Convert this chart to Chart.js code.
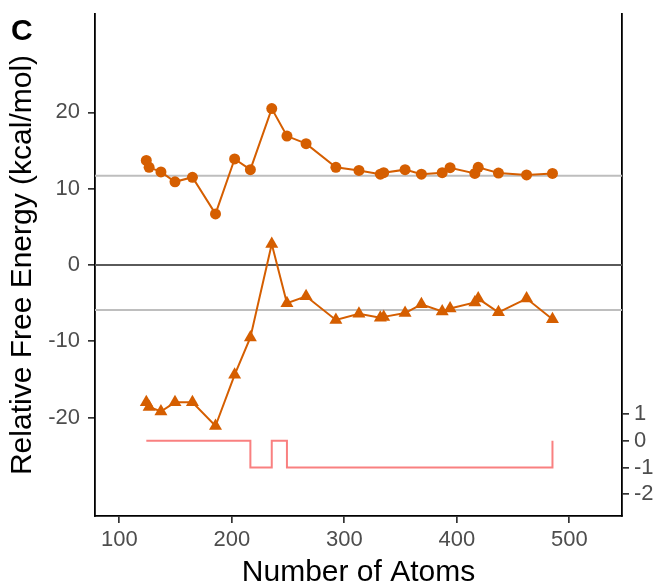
<!DOCTYPE html>
<html>
<head>
<meta charset="utf-8">
<script src="https://cdn.jsdelivr.net/npm/chart.js@4.4.1/dist/chart.umd.min.js"></script>
<style>
  html, body { margin: 0; padding: 0; background: #fff; }
  #wrap { width: 658px; height: 588px; }
</style>
</head>
<body>
<div id="wrap"><canvas id="freeChart" width="658" height="588"></canvas></div>
<script>
// data
var atoms = [124, 126.5, 137, 149.5, 165, 185.5, 202.5, 216.5, 235.5, 249, 266, 292.5, 313, 332, 335, 354, 368.5, 387, 394, 416, 419, 437, 462, 485];
var circleEnergy = [13.7, 12.8, 12.2, 10.9, 11.5, 6.7, 13.9, 12.5, 20.5, 16.9, 15.9, 12.8, 12.4, 11.9, 12.1, 12.5, 11.9, 12.1, 12.75, 12.0, 12.8, 12.05, 11.8, 12.0];
var triangleEnergy = [-18.0, -18.6, -19.2, -18.0, -18.0, -21.1, -14.4, -9.5, 2.75, -5.0, -4.1, -7.2, -6.4, -6.9, -6.8, -6.3, -5.15, -6.1, -5.7, -4.9, -4.4, -6.2, -4.4, -7.1];
var stepValues = [0, 0, 0, 0, 0, 0, 0, -1, 0, -1, -1, -1, -1, -1, -1, -1, -1, -1, -1, -1, -1, -1, -1, 0];
var refLevels = [11.7, -5.9];
var zeroLevel = 0;

var xTicks = [100, 200, 300, 400, 500];
var yTicks = [-20, -10, 0, 10, 20];
var y2Ticks = [-2, -1, 0, 1];

var X_MIN = 78.4, X_MAX = 546.8;
var Y_MIN = -32.9, Y_MAX = 32.9;
var Y2_MIN = -2.81, Y2_MAX = 15.92;

var FONT = "'Liberation Sans', Arial, sans-serif";
var ORANGE = '#D55E00';

function pts(ys) {
  return atoms.map(function(x, i) { return {x: x, y: ys[i]}; });
}
function hline(level) {
  return [{x: X_MIN, y: level}, {x: X_MAX, y: level}];
}
function fixTicks(list) {
  return function(scale) {
    scale.ticks = list.map(function(v) { return {value: v}; });
  };
}
// pin the axis box sizes so the plot area sits where the figure has it
function fixSize(prop, size) {
  return function(s) {
    s[prop] = size;
    s.paddingTop = 0; s.paddingBottom = 0;
    s.paddingLeft = 0; s.paddingRight = 0;
  };
}

var datasets = [
  {
    data: pts(circleEnergy),
    borderColor: ORANGE, backgroundColor: ORANGE, borderWidth: 2,
    pointStyle: 'circle', pointRadius: 5.5, pointBorderWidth: 0,
    yAxisID: 'y', order: 1
  },
  {
    data: pts(triangleEnergy),
    borderColor: ORANGE, backgroundColor: ORANGE, borderWidth: 2,
    pointStyle: 'triangle', pointRadius: 7.5, pointBorderWidth: 0,
    yAxisID: 'y', order: 1
  },
  {
    data: pts(stepValues),
    borderColor: '#F98080', borderWidth: 2, stepped: 'before',
    pointRadius: 0, yAxisID: 'y2', order: 2
  },
  {
    data: hline(zeroLevel),
    borderColor: '#5A5A5A', borderWidth: 2, pointRadius: 0,
    yAxisID: 'y', order: 3
  }
];
refLevels.forEach(function(l) {
  datasets.push({
    data: hline(l),
    borderColor: '#BEBEBE', borderWidth: 2, pointRadius: 0,
    yAxisID: 'y', order: 3
  });
});

var panelLabel = {
  id: 'panelLabel',
  afterDraw: function(chart) {
    var c = chart.ctx;
    c.save();
    c.font = 'bold 30px ' + FONT;
    c.fillStyle = '#000';
    c.textBaseline = 'alphabetic';
    c.fillText('C', 11, 40);
    c.restore();
  }
};

var tickGrid = {display: true, drawOnChartArea: false, drawTicks: true, tickLength: 7, color: '#333', lineWidth: 1.7};
var axisBorder = {display: true, color: '#000', width: 1.8};
var tickFont = {family: FONT, size: 22};

new Chart(document.getElementById('freeChart'), {
  type: 'line',
  data: {datasets: datasets},
  plugins: [panelLabel],
  options: {
    responsive: false,
    devicePixelRatio: 1,
    animation: false,
    layout: {autoPadding: false, padding: {top: 14, left: 0, right: 0, bottom: 0}},
    plugins: {legend: {display: false}, tooltip: {enabled: false}},
    elements: {line: {tension: 0}},
    scales: {
      x: {
        type: 'linear', position: 'bottom', min: X_MIN, max: X_MAX,
        afterBuildTicks: fixTicks(xTicks),
        afterFit: fixSize('height', 72),
        grid: tickGrid, border: axisBorder,
        ticks: {color: '#4D4D4D', font: tickFont, padding: 4, autoSkip: false, maxRotation: 0},
        title: {display: true, text: 'Number of Atoms', color: '#000',
                font: {family: FONT, size: 30, lineHeight: 1}, padding: {top: 0, bottom: 0}}
      },
      y: {
        type: 'linear', position: 'left', min: Y_MIN, max: Y_MAX,
        afterBuildTicks: fixTicks(yTicks),
        afterFit: fixSize('width', 95),
        grid: tickGrid, border: axisBorder,
        ticks: {color: '#4D4D4D', font: tickFont, padding: 8},
        title: {display: true, text: 'Relative Free Energy (kcal/mol)', color: '#000',
                font: {family: FONT, size: 30, lineHeight: 1}, padding: {top: 8, bottom: 0}}
      },
      y2: {
        type: 'linear', position: 'right', min: Y2_MIN, max: Y2_MAX,
        afterBuildTicks: fixTicks(y2Ticks),
        afterFit: fixSize('width', 36),
        grid: tickGrid, border: axisBorder,
        ticks: {color: '#4D4D4D', font: tickFont, padding: 5}
      }
    }
  }
});
</script>
</body>
</html>
